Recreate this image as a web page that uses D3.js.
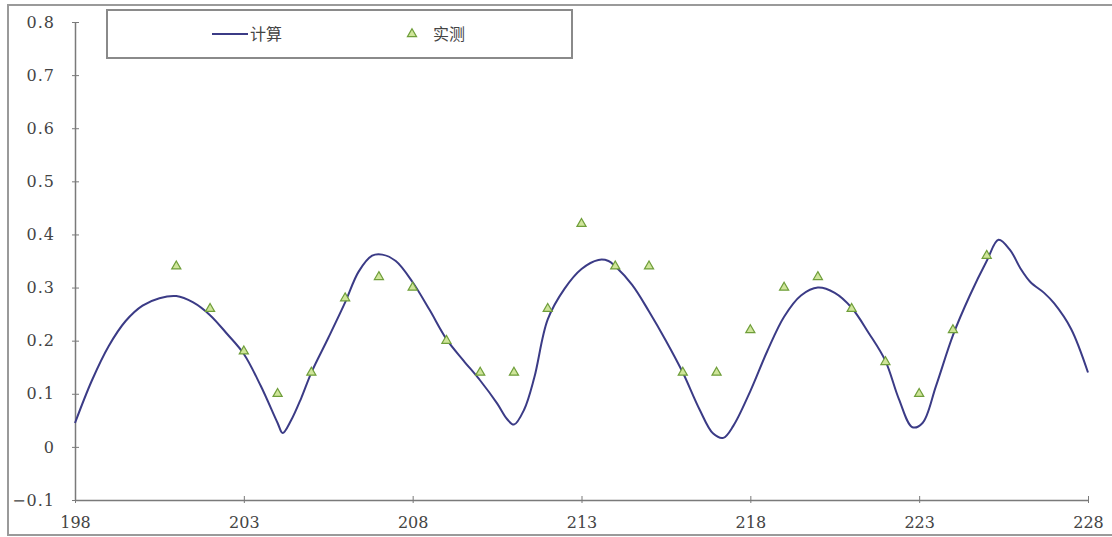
<!DOCTYPE html>
<html>
<head>
<meta charset="utf-8">
<script src="https://cdn.jsdelivr.net/npm/d3@7/dist/d3.min.js"></script>
<style>
html,body{margin:0;padding:0;background:#fff;}
svg{display:block;}
.ax text{font-family:"DejaVu Serif" !important;font-size:16px;fill:#444;}
.lgt{font-family:"Noto Sans CJK SC",sans-serif;font-size:16px;fill:#444;}
</style>
</head>
<body>
<svg id="chart" width="1112" height="537"></svg>
<script>
// ---- data ----
const yTicks = [-0.1, 0, 0.1, 0.2, 0.3, 0.4, 0.5, 0.6, 0.7, 0.8];
const xTicks = [198, 203, 208, 213, 218, 223, 228];
const legendLabels = ["计算", "实测"];

// 计算 (calculated curve)
const calcX = [198, 198.5, 199, 199.5, 200, 200.5, 201, 201.5, 202, 202.5, 203, 203.5, 204, 204.15, 204.4, 204.7, 205, 205.5, 206, 206.4, 206.8, 207.1, 207.5, 208, 208.5, 209, 209.5, 210, 210.5, 210.8, 211, 211.3, 211.6, 212, 212.5, 213, 213.5, 213.8, 214, 214.5, 215, 215.5, 216, 216.5, 216.9, 217.2, 217.5, 218, 218.5, 219, 219.5, 220, 220.5, 221, 221.5, 222, 222.4, 222.8, 223.1, 223.5, 224, 224.5, 225, 225.35, 225.7, 226, 226.3, 226.7, 227, 227.5, 228];
const calcY = [0.045, 0.125, 0.19, 0.237, 0.266, 0.28, 0.284, 0.272, 0.248, 0.213, 0.175, 0.115, 0.045, 0.026, 0.05, 0.092, 0.14, 0.205, 0.272, 0.33, 0.36, 0.362, 0.35, 0.31, 0.258, 0.203, 0.163, 0.125, 0.082, 0.052, 0.042, 0.07, 0.13, 0.24, 0.298, 0.335, 0.352, 0.35, 0.34, 0.305, 0.255, 0.2, 0.14, 0.07, 0.025, 0.017, 0.04, 0.105, 0.18, 0.245, 0.285, 0.3, 0.29, 0.262, 0.215, 0.162, 0.09, 0.037, 0.045, 0.115, 0.21, 0.285, 0.35, 0.39, 0.37, 0.336, 0.31, 0.29, 0.27, 0.222, 0.14];

// 实测 (measured)
const measX = [201, 202, 203, 204, 205, 206, 207, 208, 209, 210, 211, 212, 213, 214, 215, 216, 217, 218, 219, 220, 221, 222, 223, 224, 225];
const measY = [0.34, 0.26, 0.18, 0.10, 0.14, 0.28, 0.32, 0.30, 0.20, 0.14, 0.14, 0.26, 0.42, 0.34, 0.34, 0.14, 0.14, 0.22, 0.30, 0.32, 0.26, 0.16, 0.10, 0.22, 0.36];

// ---- layout ----
const svg = d3.select("#chart");
const mLeft = 75, mRight = 1088, mTop = 22, mBottom = 500;
const x = d3.scaleLinear().domain([198, 228]).range([mLeft, mRight]);
const y = d3.scaleLinear().domain([-0.1, 0.8]).range([mBottom, mTop]);

// outer frame
svg.append("rect").attr("x", 8).attr("y", 5).attr("width", 1112).attr("height", 530)
  .attr("fill", "none").attr("stroke", "#9a9a9a").attr("stroke-width", 2);

const axisColor = "#7a7a7a";

// y axis
const yAxis = svg.append("g").attr("class", "ax").attr("transform", `translate(${mLeft},0)`)
  .call(d3.axisLeft(y).tickValues(yTicks).tickSize(0).tickPadding(20)
        .tickFormat(d => Math.abs(d) < 1e-9 ? "0" : d3.format(".1f")(d)));
yAxis.attr("font-family", null).attr("font-size", null);
yAxis.select(".domain").attr("stroke", axisColor).attr("stroke-width", 1.5);
yAxis.selectAll("text").style("letter-spacing", "1px");
yAxis.selectAll(".tick").append("line").attr("x1", -3).attr("x2", 4).attr("stroke", axisColor).attr("stroke-width", 1);

// x axis
const xAxis = svg.append("g").attr("class", "ax").attr("transform", `translate(0,${mBottom})`)
  .call(d3.axisBottom(x).tickValues(xTicks).tickSize(0).tickPadding(17).tickFormat(d3.format("d")));
xAxis.attr("font-family", null).attr("font-size", null);
xAxis.select(".domain").attr("stroke", axisColor).attr("stroke-width", 1.5);
xAxis.selectAll(".tick").append("line").attr("y1", -4).attr("y2", 3).attr("stroke", axisColor).attr("stroke-width", 1);

// calculated line
const calc = calcX.map((v, i) => [v, calcY[i]]);
svg.append("path").datum(calc)
  .attr("fill", "none").attr("stroke", "#3b3b86").attr("stroke-width", 2)
  .attr("d", d3.line().x(d => x(d[0])).y(d => y(d[1])).curve(d3.curveCatmullRom.alpha(0.5)));

// measured triangles
const tri = d3.symbol().type(d3.symbolTriangle).size(36);
const meas = measX.map((v, i) => [v, measY[i]]);
svg.append("g").selectAll("path").data(meas).join("path")
  .attr("transform", d => `translate(${x(d[0])},${y(d[1])})`)
  .attr("d", tri).attr("fill", "#cfe59a").attr("stroke", "#6f9e3a").attr("stroke-width", 1.2);

// legend
const lg = svg.append("g");
lg.append("rect").attr("x", 107).attr("y", 10).attr("width", 465).attr("height", 48)
  .attr("fill", "#fff").attr("stroke", "#8a8a8a").attr("stroke-width", 2);
lg.append("line").attr("x1", 212).attr("x2", 248).attr("y1", 34).attr("y2", 34)
  .attr("stroke", "#3b3b86").attr("stroke-width", 2);
lg.append("text").attr("class", "lgt").attr("x", 250).attr("y", 40).text(legendLabels[0]);
lg.append("path").attr("transform", "translate(412,34)").attr("d", tri)
  .attr("fill", "#cfe59a").attr("stroke", "#6f9e3a").attr("stroke-width", 1.2);
lg.append("text").attr("class", "lgt").attr("x", 433).attr("y", 40).text(legendLabels[1]);
</script>
</body>
</html>
